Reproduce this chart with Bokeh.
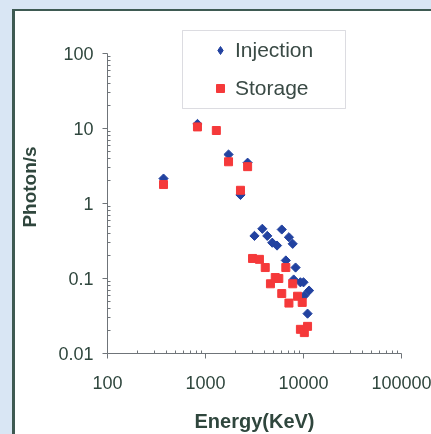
from bokeh.plotting import figure
from bokeh.models import (Legend, LegendItem, BoxAnnotation, Range1d, FixedTicker,
                          GlobalInlineStyleSheet)
from bokeh.embed import file_html
from bokeh.resources import INLINE
import math

# ---- data ----
inj_energy = [373, 828, 1718, 2690, 2275, 3160, 3800, 4270, 4800, 5370, 6000,
              7100, 7760, 6600, 8300, 7940, 9300, 10000, 10200, 11400, 11000]
inj_photon = [2.15, 11.5, 4.5, 3.5, 1.3, 0.37, 0.46, 0.37, 0.30, 0.275, 0.45,
              0.355, 0.29, 0.174, 0.14, 0.097, 0.089, 0.089, 0.059, 0.069, 0.034]

sto_energy = [373, 828, 1290, 1718, 2690, 2275, 3020, 3550, 4070, 4600, 5150,
              5600, 6000, 6600, 7100, 7760, 8700, 9700, 9300, 10200, 11000]
sto_photon = [1.79, 10.5, 9.4, 3.6, 3.1, 1.5, 0.185, 0.18, 0.14, 0.085, 0.103,
              0.1, 0.063, 0.14, 0.047, 0.085, 0.058, 0.048, 0.021, 0.019, 0.023]

x_ticks = [100, 1000, 10000, 100000]
y_ticks = [0.01, 0.1, 1, 10, 100]
x_labels = {100: "100", 1000: "1000", 10000: "10000", 100000: "100000"}
y_labels = {0.01: "0.01", 0.1: "0.1", 1: "1", 10: "10", 100: "100"}

FONT = "Liberation Sans"
TEXT = "#2f463d"
AXIS = "#6f7479"
BLUE = "#2242a0"
RED = "#f5393a"

# frame top is raised above the "100" tick so the legend box (which sits
# above the axis top) is not clipped; the y axis line is bounded to 0.01..100
FRAME_TOP = 20
y_top = 100 * 10 ** ((53 - FRAME_TOP) / 75)

p = figure(width=431, height=434, output_backend="svg", toolbar_location=None,
           x_axis_type="log", y_axis_type="log",
           x_range=Range1d(100, 100000), y_range=Range1d(0.01, y_top),
           min_border_left=107, min_border_right=30, min_border_top=FRAME_TOP,
           min_border_bottom=81, border_fill_color=None,
           background_fill_color="white", outline_line_color=None)

css = """
body { background: #d9e6f4; }
body::before {
  content: ""; position: fixed; left: 12px; top: 9px; right: -20px; bottom: -20px;
  background: #ffffff; border-left: 3px solid #3e5a52; border-top: 2px solid #3e5a52;
  z-index: -1;
}
"""
p.stylesheets = [GlobalInlineStyleSheet(css=css)]

p.xgrid.visible = False
p.ygrid.visible = False

# data markers: injection as rotated squares (square diamonds), storage as squares
p.scatter(inj_energy, inj_photon, marker="square", angle=math.pi / 4, size=6.5,
          fill_color=BLUE, line_color=BLUE)
r_sto = p.scatter(sto_energy, sto_photon, marker="square", size=8,
                  fill_color=RED, line_color=RED)
# hidden diamond renderer of the same data, used only for the legend key
r_inj_key = p.scatter(inj_energy, inj_photon, marker="diamond", size=10,
                      fill_color=BLUE, line_color=BLUE, visible=False)

for ax in (p.xaxis[0], p.yaxis[0]):
    ax.axis_line_color = AXIS
    ax.major_tick_line_color = AXIS
    ax.minor_tick_line_color = AXIS
    ax.major_label_text_font = FONT
    ax.major_label_text_font_size = "18px"
    ax.major_label_text_color = TEXT
    ax.axis_label_text_font = FONT
    ax.axis_label_text_font_style = "bold"
    ax.axis_label_text_color = TEXT
    ax.major_tick_out = 5
    ax.major_tick_in = 0
    ax.minor_tick_in = 3
    ax.minor_tick_out = 0

p.xaxis.axis_label_text_font_size = "20px"
p.yaxis.axis_label_text_font_size = "19px"
p.yaxis.bounds = (0.01, 100)

p.xaxis.ticker = FixedTicker(ticks=x_ticks, minor_ticks=[m * 10 ** k for k in range(2, 5) for m in range(2, 10)])
p.yaxis.ticker = FixedTicker(ticks=y_ticks, minor_ticks=[m * 10.0 ** k for k in range(-2, 2) for m in range(2, 10)])
p.xaxis.major_label_overrides = x_labels
p.yaxis.major_label_overrides = y_labels
p.xaxis.axis_label = "Energy(KeV)"
p.yaxis.axis_label = "Photon/s"
p.xaxis.major_label_standoff = 17
p.xaxis.axis_label_standoff = 18
p.yaxis.major_label_standoff = 9
p.yaxis.axis_label_standoff = 15

# legend box
box = BoxAnnotation(left=182, right=345, top=30, bottom=108,
                    left_units="canvas", right_units="canvas",
                    top_units="canvas", bottom_units="canvas",
                    fill_color="white", fill_alpha=1.0,
                    line_color="#8c8c9c", line_width=1, level="overlay")
p.add_layout(box)

legend = Legend(items=[LegendItem(label="Injection", renderers=[r_inj_key]),
                       LegendItem(label="Storage", renderers=[r_sto])],
                location=(103, 253), border_line_color=None,
                background_fill_alpha=0, padding=0, margin=0,
                inactive_fill_alpha=0,
                label_text_font=FONT, label_text_font_size="21px",
                label_text_color="#3a4a45", glyph_width=20, glyph_height=24,
                label_height=24, label_standoff=5, spacing=14)
p.add_layout(legend)

open("out.html", "w").write(file_html(p, INLINE))
